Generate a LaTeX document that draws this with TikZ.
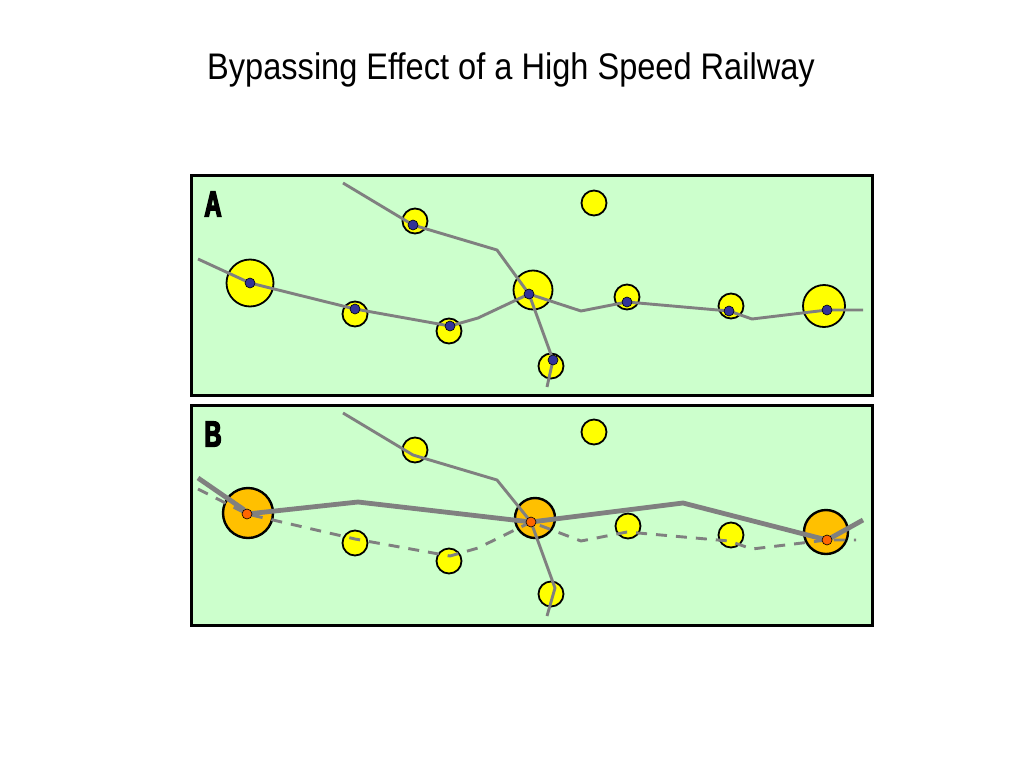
\documentclass[tikz,border=0pt]{standalone}
\usepackage{fontspec}
\setmainfont{Liberation Sans}
\newfontfamily\titlefont[FakeStretch=0.88,Ligatures=NoCommon]{Liberation Sans}
\newfontfamily\panelfont[FakeStretch=0.66,FakeBold=4]{Liberation Sans Bold}
\usetikzlibrary{positioning}
\definecolor{cLand}{HTML}{CCFFCC}
\definecolor{cTown}{HTML}{FFFF00}
\definecolor{cHub}{HTML}{FFC000}
\definecolor{cStopA}{HTML}{333399}
\definecolor{cStopB}{HTML}{FF6600}
\definecolor{cRail}{HTML}{808080}
\tikzstyle{panel}=[draw=black,line width=2.6pt,fill=cLand,inner sep=0pt,anchor=north west,minimum width=681pt,minimum height=220pt]
\tikzstyle{panellabel}=[inner sep=0pt,font=\panelfont\fontsize{36}{36}\selectfont]
\tikzstyle{town}=[circle,fill=cTown,draw=black,line width=1.8pt,inner sep=0pt,minimum size=25pt]
\tikzstyle{hub}=[town,fill=cHub,line width=2.4pt]
\tikzstyle{stopA}=[circle,fill=cStopA,draw=black,line width=0.6pt,inner sep=0pt,minimum size=10pt]
\tikzstyle{stopB}=[stopA,fill=cStopB]
\tikzstyle{road}=[cRail,line width=2.9pt,line join=round]
\tikzstyle{hsr}=[cRail,line width=4.8pt,line join=round]
\tikzstyle{oldroad}=[road,dash pattern=on 11pt off 9pt]

\begin{document}
\begin{tikzpicture}[x=1pt,y=-1pt]
\useasboundingbox (0,0) rectangle (1024,768);
\node[font=\titlefont\fontsize{37}{37}\selectfont] (T) at (511,70) {Bypassing Effect of a High Speed Railway};
% panel A: conventional line
\node[panel] (PA) at (190,174) {};
\node[panellabel] (LA) at (213,204) {A};
\node[town,minimum size=47pt] (A1) at (250,283) {};
\node[town] (A2) at (415,221) {};
\node[town] (A3) at (355,314) {};
\node[town] (A4) at (449,331) {};
\node[town,minimum size=39pt] (A5) at (533,290) {};
\node[town] (A6) at (551,366) {};
\node[town] (A7) at (594,203) {};
\node[town] (A8) at (627,297) {};
\node[town] (A9) at (731,306) {};
\node[town,minimum size=42pt] (A10) at (824,306) {};
\coordinate (a1) at (250,283);
\coordinate (a2) at (413,225);
\coordinate (a3) at (355,309);
\coordinate (a4) at (450,326);
\coordinate (a5) at (529,294);
\coordinate (a6) at (553,360);
\coordinate (a8) at (627,302);
\coordinate (a9) at (729,311);
\coordinate (a10) at (827,310);
\coordinate (aw) at (198,259);
\coordinate (ak1) at (478,318);
\coordinate (ak2) at (581,311);
\coordinate (ak3) at (752,319);
\coordinate (ae) at (863,310);
\coordinate (an) at (343,183);
\coordinate (ak4) at (497,250);
\coordinate (as) at (547,387);
\draw[road] (aw) -- (a1) -- (a3) -- (a4) -- (ak1) -- (a5) -- (ak2) -- (a8) -- (a9) -- (ak3) -- (a10) -- (ae);
\draw[road] (an) -- (a2) -- (ak4) -- (a5) -- (a6) -- (as);
\foreach \s in {1,2,3,4,5,6,8,9,10}
  \node[stopA] (SA\s) at (a\s) {};
% panel B: high speed line
\node[panel] (PB) at (190,404) {};
\node[panellabel] (LB) at (213,434) {B};
\node[hub,minimum size=50pt] (B1) at (248,513) {};
\node[town] (B2) at (415,450) {};
\node[town] (B3) at (355,543) {};
\node[town] (B4) at (449,561) {};
\node[hub,minimum size=40pt] (B5) at (535,518) {};
\node[town] (B6) at (551,594) {};
\node[town] (B7) at (594,432) {};
\node[town] (B8) at (628,526) {};
\node[town] (B9) at (731,535) {};
\node[hub,minimum size=44pt] (B10) at (826,532) {};
\coordinate (b1) at (247,514);
\coordinate (b3) at (355,539);
\coordinate (b4) at (450,556);
\coordinate (b5) at (531,522);
\coordinate (b6) at (555,588);
\coordinate (b8) at (627,532);
\coordinate (b9) at (729,541);
\coordinate (b10) at (827,540);
\coordinate (b2) at (413,455);
\coordinate (bw) at (198,489);
\coordinate (bk1) at (478,548);
\coordinate (bk2) at (581,541);
\coordinate (bk3) at (752,549);
\coordinate (be) at (856,540);
\coordinate (bn) at (343,413);
\coordinate (bk4) at (497,480);
\coordinate (bs) at (547,616);
\coordinate (hw) at (198,478);
\coordinate (hk1) at (243,509);
\coordinate (hk2) at (358,502);
\coordinate (hk3) at (683,503);
\coordinate (he) at (863,520);
\draw[oldroad] (bw) -- (b1) -- (b3) -- (b4) -- (bk1) -- (b5) -- (bk2) -- (b8) -- (b9) -- (bk3) -- (b10) -- (be);
\draw[road] (bn) -- (b2) -- (bk4) -- (b5) -- (b6) -- (bs);
\draw[hsr] (hw) -- (hk1) -- (b1) -- (hk2) -- (b5) -- (hk3) -- (b10) -- (he);
\foreach \s in {1,5,10}
  \node[stopB] (SB\s) at (b\s) {};
\end{tikzpicture}
\end{document}
